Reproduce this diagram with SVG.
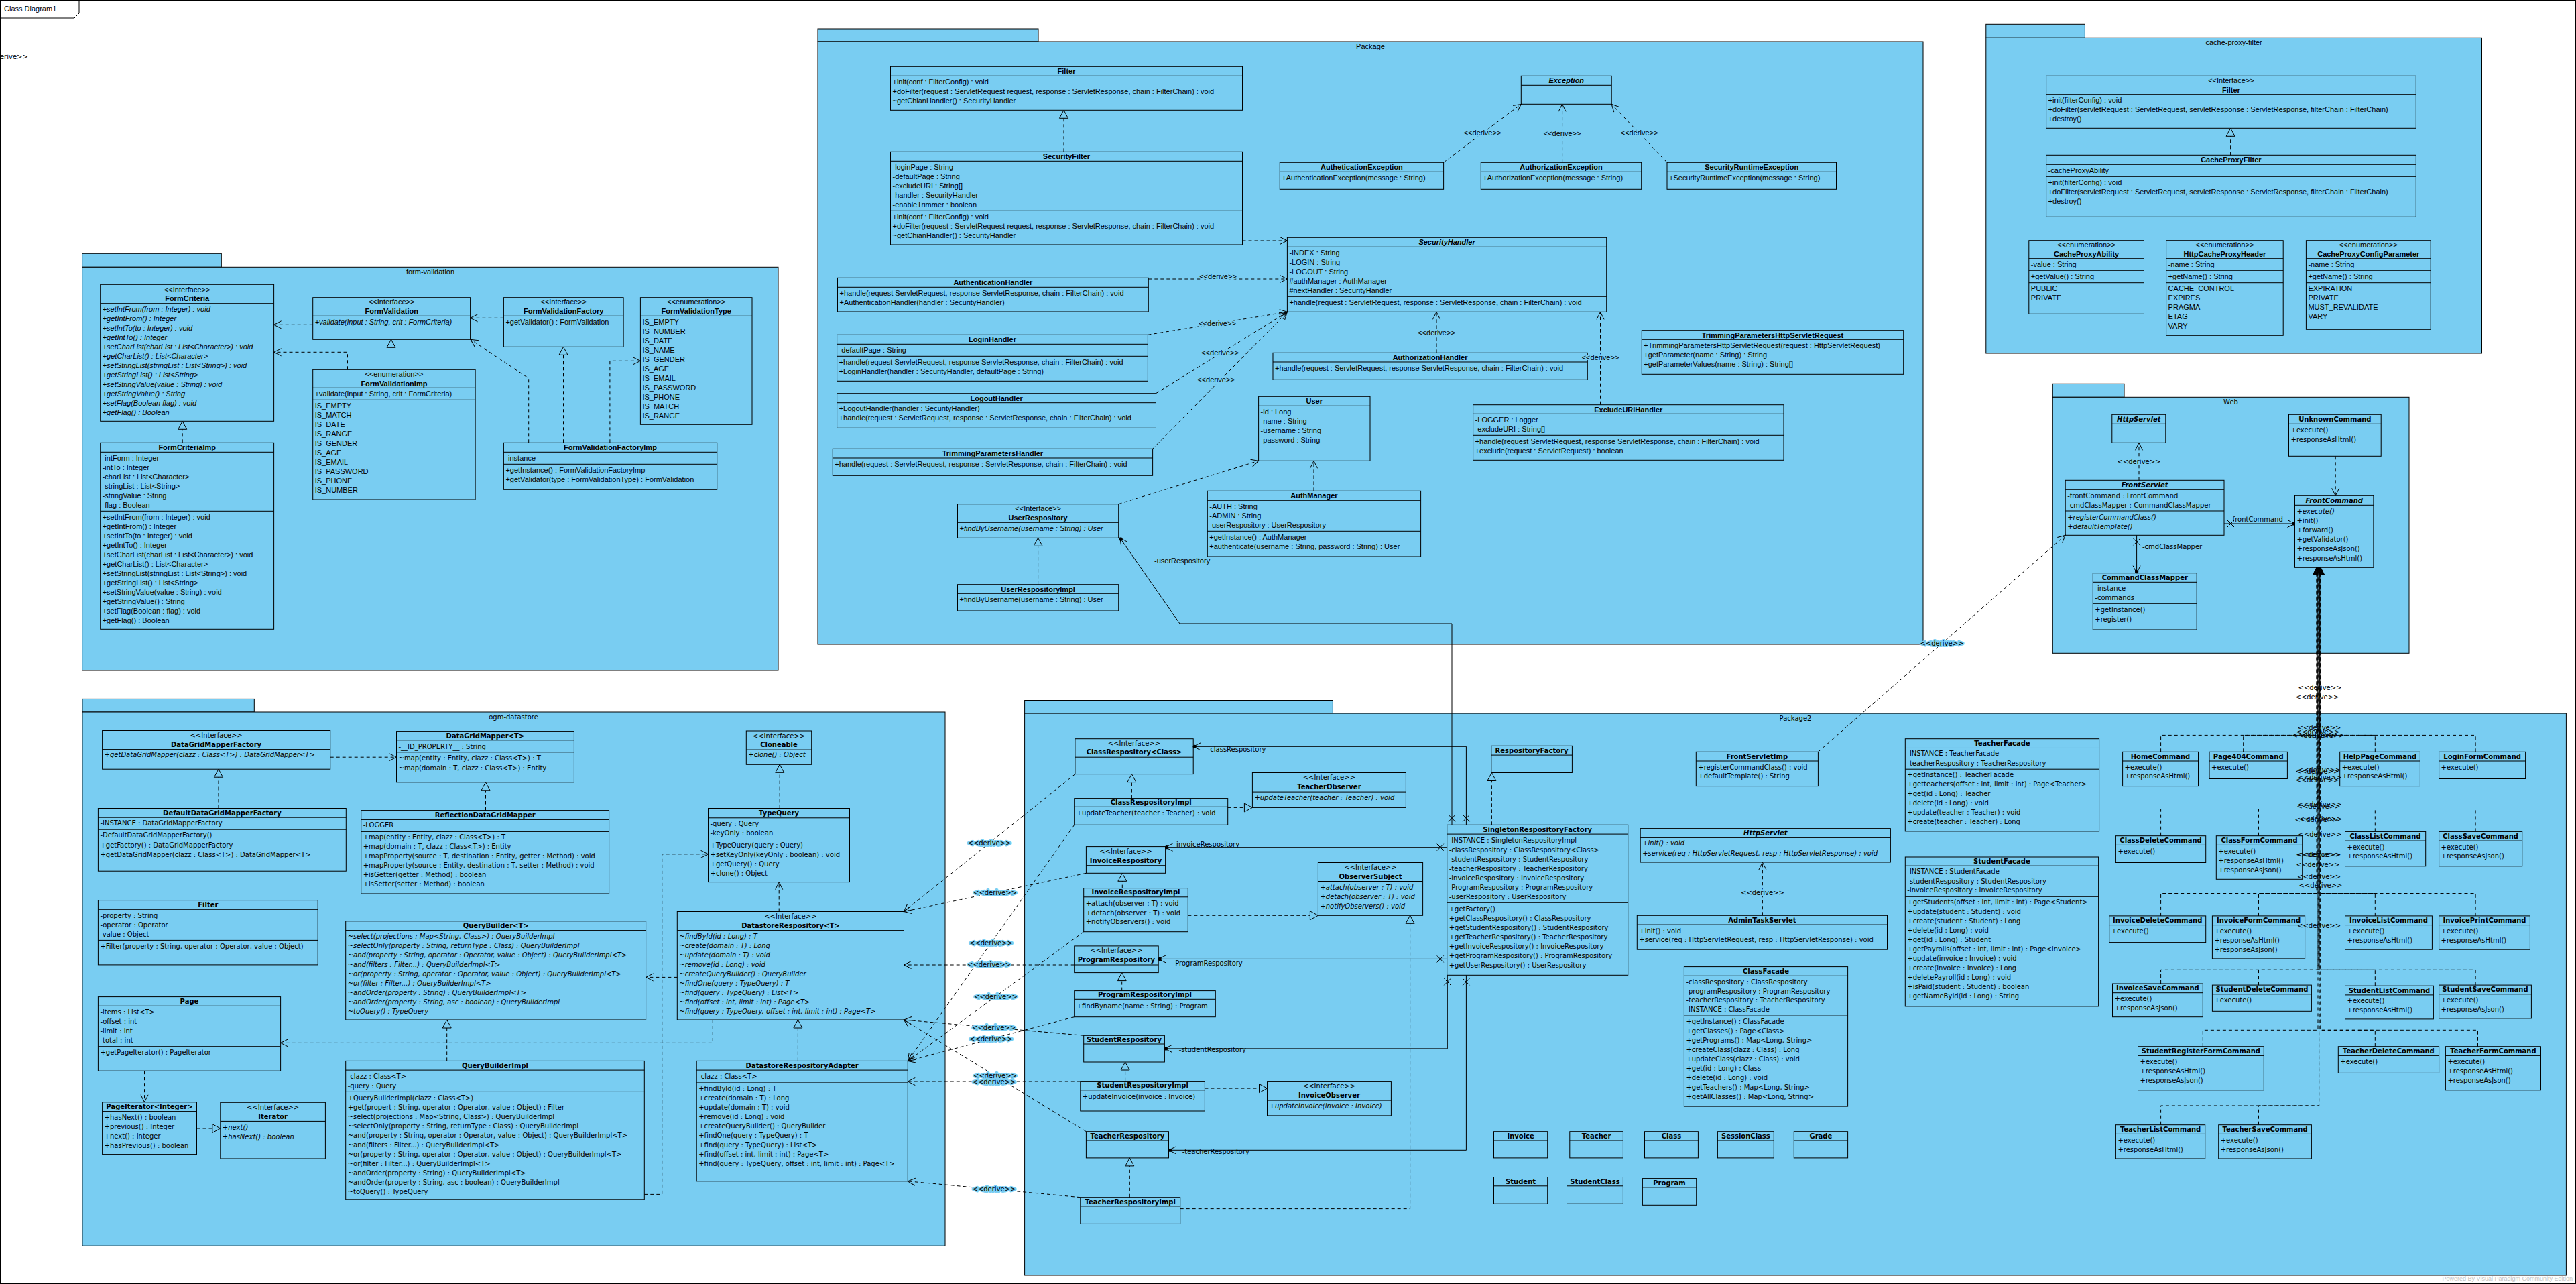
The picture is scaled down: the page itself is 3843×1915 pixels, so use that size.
<svg xmlns="http://www.w3.org/2000/svg" width="3843" height="1915" viewBox="0 0 3843 1915">
<style>
.box{fill:#79cdf2;stroke:#000;stroke-width:1}
.sep{stroke:#000;stroke-width:1;fill:none}
.t{font-family:"Liberation Sans",Arial,sans-serif;font-size:11px;fill:#000}
.u{font-family:"DejaVu Sans",Verdana,sans-serif;font-size:10px;fill:#000}
.b{font-weight:bold}
.i{font-style:italic}
.m{text-anchor:middle}
.dep{fill:none;stroke:#000;stroke-width:1;stroke-dasharray:5 4}
.sol{fill:none;stroke:#000;stroke-width:1}
.halo{paint-order:stroke;stroke:#79cdf2;stroke-width:4px;stroke-linejoin:round}
</style>
<defs>
<marker id="mOpen" markerUnits="userSpaceOnUse" markerWidth="14" markerHeight="14" refX="11" refY="6" orient="auto" overflow="visible">
<path d="M0,0.5 L11,6 L0,11.5" fill="none" stroke="#000" stroke-width="1"/>
</marker>
<marker id="mTri" markerUnits="userSpaceOnUse" markerWidth="14" markerHeight="14" refX="12" refY="6.5" orient="auto" overflow="visible">
<path d="M0,0 L12,6.5 L0,13 Z" fill="#79cdf2" stroke="#000" stroke-width="1"/>
</marker>
<marker id="mNav" markerUnits="userSpaceOnUse" markerWidth="14" markerHeight="14" refX="11" refY="6" orient="auto" overflow="visible">
<path d="M0,0.5 L11,6 L0,11.5" fill="none" stroke="#000" stroke-width="1"/>
<circle cx="9" cy="6" r="2.6" fill="#000"/>
</marker>
<marker id="mX" markerUnits="userSpaceOnUse" markerWidth="20" markerHeight="20" refX="0" refY="0" orient="auto" overflow="visible">
<path d="M5,-5 L15,5 M5,5 L15,-5" fill="none" stroke="#000" stroke-width="1"/>
</marker>
</defs>

<rect x="0" y="0" width="3843" height="1915" fill="#fff"/>

<!-- diagram frame -->
<g id="frame" class="t">
<rect x="0.5" y="0.5" width="3842" height="1914" fill="none" stroke="#000" stroke-width="1"/>
<path d="M0.5,0.5 H118 V20 L111,27 H0.5" fill="none" stroke="#000" stroke-width="1"/>
<text x="6" y="17">Class Diagram1</text>
</g>

<!-- packages -->
<g id="pkg-package" class="t">
<rect class="box" x="1220" y="43" width="329" height="19"/>
<rect class="box" x="1220" y="62" width="1649" height="899"/>
<text class="m" x="2044.5" y="73.3">Package</text>
</g>
<g id="pkg-form-validation" class="t">
<rect class="box" x="122.6" y="378.3" width="207.7" height="20"/>
<rect class="box" x="122.6" y="398.3" width="1038.4" height="601.7"/>
<text class="m" x="642" y="409">form-validation</text>
</g>
<g id="pkg-cache-proxy-filter" class="t">
<rect class="box" x="2962.8" y="36.3" width="147.6" height="20"/>
<rect class="box" x="2962.8" y="56.3" width="739.7" height="470.7"/>
<text class="m" x="3332.6" y="67.3">cache-proxy-filter</text>
</g>
<g id="pkg-web" class="u">
<rect class="box" x="3062.3" y="572.3" width="106.7" height="20"/>
<rect class="box" x="3062.3" y="592.3" width="531.7" height="382"/>
<text class="m" x="3328" y="602.6">Web</text>
</g>
<g id="pkg-ogm-datastore" class="u">
<rect class="box" x="122.9" y="1042.4" width="256.4" height="19.6"/>
<rect class="box" x="122.9" y="1062" width="1287.1" height="796.2"/>
<text class="m" x="766" y="1073">ogm-datastore</text>
</g>
<g id="pkg-package2" class="u">
<rect class="box" x="1528.6" y="1044.5" width="459.8" height="19.6"/>
<rect class="box" x="1528.6" y="1064.1" width="2299.8" height="837.9"/>
<text class="m" x="2678.5" y="1074.6">Package2</text>
</g>

<!-- ===== Package ===== -->
<g id="n-filter" class="t" transform="translate(1328.5,99.3)">
<rect class="box" width="525" height="65"/><path class="sep" d="M0,14H525"/>
<text class="b m" x="262.5" y="11">Filter</text>
<text x="3" y="26.7">+init(conf : FilterConfig) : void</text>
<text x="3" y="40.7">+doFilter(request : ServletRequest request, response : ServletResponse, chain : FilterChain) : void</text>
<text x="3" y="54.7">~getChianHandler() : SecurityHandler</text>
</g>
<g id="n-securityfilter" class="t" transform="translate(1328.5,226.3)">
<rect class="box" width="525" height="138.7"/><path class="sep" d="M0,14H525M0,88H525"/>
<text class="b m" x="262.5" y="11">SecurityFilter</text>
<text x="3" y="27">-loginPage : String</text>
<text x="3" y="41">-defaultPage : String</text>
<text x="3" y="55">-excludeURI : String[]</text>
<text x="3" y="69">-handler : SecurityHandler</text>
<text x="3" y="83">-enableTrimmer : boolean</text>
<text x="3" y="101">+init(conf : FilterConfig) : void</text>
<text x="3" y="115">+doFilter(request : ServletRequest request, response : ServletResponse, chain : FilterChain) : void</text>
<text x="3" y="129">~getChianHandler() : SecurityHandler</text>
</g>
<g id="n-authenticationhandler" class="t" transform="translate(1249.5,414.3)">
<rect class="box" width="463.8" height="50.7"/><path class="sep" d="M0,14H463.8"/>
<text class="b m" x="231.9" y="11">AuthenticationHandler</text>
<text x="3" y="26.7">+handle(request ServletRequest, response ServletResponse, chain : FilterChain) : void</text>
<text x="3" y="40.7">+AuthenticationHandler(handler : SecurityHandler)</text>
</g>
<g id="n-securityhandler" class="t" transform="translate(1920.4,354.3)">
<rect class="box" width="476.3" height="111"/><path class="sep" d="M0,14H476.3M0,88H476.3"/>
<text class="b i m" x="238.2" y="11">SecurityHandler</text>
<text x="3" y="26.7">-INDEX : String</text>
<text x="3" y="40.7">-LOGIN : String</text>
<text x="3" y="54.7">-LOGOUT : String</text>
<text x="3" y="68.7">#authManager : AuthManager</text>
<text x="3" y="82.7">#nextHandler : SecurityHandler</text>
<text x="3" y="100.7">+handle(request : ServletRequest, response : ServletResponse, chain : FilterChain) : void</text>
</g>
<g id="n-loginhandler" class="t" transform="translate(1248.6,499.3)">
<rect class="box" width="463.8" height="69"/><path class="sep" d="M0,14H463.8M0,32H463.8"/>
<text class="b m" x="231.9" y="11">LoginHandler</text>
<text x="3" y="27">-defaultPage : String</text>
<text x="3" y="45">+handle(request ServletRequest, response ServletResponse, chain : FilterChain) : void</text>
<text x="3" y="59">+LoginHandler(handler : SecurityHandler, defaultPage : String)</text>
</g>
<g id="n-logouthandler" class="t" transform="translate(1248.6,586.7)">
<rect class="box" width="475.9" height="51.6"/><path class="sep" d="M0,14H475.9"/>
<text class="b m" x="238" y="11">LogoutHandler</text>
<text x="3" y="26.3">+LogoutHandler(handler : SecurityHandler)</text>
<text x="3" y="40.3">+handle(request : ServletRequest, response : ServletResponse, chain : FilterChain) : void</text>
</g>
<g id="n-trimmingparametershandler" class="t" transform="translate(1242.3,669.3)">
<rect class="box" width="477.3" height="40"/><path class="sep" d="M0,13.7H477.3"/>
<text class="b m" x="238.6" y="11">TrimmingParametersHandler</text>
<text x="3" y="26.7">+handle(request : ServletRequest, response : ServletResponse, chain : FilterChain) : void</text>
</g>
<g id="n-userrespository" class="t" transform="translate(1428.5,751.7)">
<rect class="box" width="240.2" height="50.6"/><path class="sep" d="M0,27.6H240.2"/>
<text class="m" x="120.1" y="10.6">&lt;&lt;Interface&gt;&gt;</text>
<text class="b m" x="120.1" y="24.6">UserRespository</text>
<text class="i" x="3" y="40.3">+findByUsername(username : String) : User</text>
</g>
<g id="n-userrespositoryimpl" class="t" transform="translate(1428.5,871.7)">
<rect class="box" width="240.2" height="39.3"/><path class="sep" d="M0,13.6H240.2"/>
<text class="b m" x="120.1" y="11">UserRespositoryImpl</text>
<text x="3" y="26.6">+findByUsername(username : String) : User</text>
</g>
<g id="n-user" class="t" transform="translate(1877.6,591.3)">
<rect class="box" width="166.4" height="96"/><path class="sep" d="M0,14H166.4"/>
<text class="b m" x="83.2" y="11">User</text>
<text x="3" y="27">-id : Long</text>
<text x="3" y="41">-name : String</text>
<text x="3" y="55">-username : String</text>
<text x="3" y="69">-password : String</text>
</g>
<g id="n-authmanager" class="t" transform="translate(1801.3,732.3)">
<rect class="box" width="318.3" height="97.7"/><path class="sep" d="M0,14H318.3M0,60H318.3"/>
<text class="b m" x="159.1" y="11">AuthManager</text>
<text x="3" y="27">-AUTH : String</text>
<text x="3" y="41">-ADMIN : String</text>
<text x="3" y="55">-userRespository : UserRespository</text>
<text x="3" y="73">+getInstance() : AuthManager</text>
<text x="3" y="87">+authenticate(username : String, password : String) : User</text>
</g>
<g id="n-exception" class="t" transform="translate(2269.3,113.3)">
<rect class="box" width="134.9" height="42"/><path class="sep" d="M0,14H134.9"/>
<text class="b i m" x="67.5" y="11">Exception</text>
</g>
<g id="n-autheticationexception" class="t" transform="translate(1909.3,242.3)">
<rect class="box" width="244.3" height="40"/><path class="sep" d="M0,14H244.3"/>
<text class="b m" x="122.1" y="11">AutheticationException</text>
<text x="3" y="27">+AuthenticationException(message : String)</text>
</g>
<g id="n-authorizationexception" class="t" transform="translate(2209.3,242.3)">
<rect class="box" width="239.4" height="40"/><path class="sep" d="M0,14H239.4"/>
<text class="b m" x="119.7" y="11">AuthorizationException</text>
<text x="3" y="27">+AuthorizationException(message : String)</text>
</g>
<g id="n-securityruntimeexception" class="t" transform="translate(2487,242.3)">
<rect class="box" width="252.5" height="40"/><path class="sep" d="M0,14H252.5"/>
<text class="b m" x="126.2" y="11">SecurityRuntimeException</text>
<text x="3" y="27">+SecurityRuntimeException(message : String)</text>
</g>
<g id="n-authorizationhandler" class="t" transform="translate(1899,526.3)">
<rect class="box" width="469.3" height="40"/><path class="sep" d="M0,13.7H469.3"/>
<text class="b m" x="234.6" y="11">AuthorizationHandler</text>
<text x="3" y="27">+handle(request : ServletRequest, response ServletResponse, chain : FilterChain) : void</text>
</g>
<g id="n-excludeurihandler" class="t" transform="translate(2197.6,603.7)">
<rect class="box" width="463.4" height="82.6"/><path class="sep" d="M0,13.6H463.4M0,45.6H463.4"/>
<text class="b m" x="231.7" y="11">ExcludeURIHandler</text>
<text x="3" y="26.6">-LOGGER : Logger</text>
<text x="3" y="40.6">-excludeURI : String[]</text>
<text x="3" y="58.6">+handle(request ServletRequest, response ServletResponse, chain : FilterChain) : void</text>
<text x="3" y="72.6">+exclude(request : ServletRequest) : boolean</text>
</g>
<g id="n-trimmingparametershttpservletrequest" class="t" transform="translate(2449.3,492.7)">
<rect class="box" width="390.4" height="65.6"/><path class="sep" d="M0,13.6H390.4"/>
<text class="b m" x="195.2" y="11">TrimmingParametersHttpServletRequest</text>
<text x="3" y="26.3">+TrimmingParametersHttpServletRequest(request : HttpServletRequest)</text>
<text x="3" y="40.3">+getParameter(name : String) : String</text>
<text x="3" y="54.3">+getParameterValues(name : String) : String[]</text>
</g>

<!-- ===== form-validation ===== -->
<g id="n-formcriteria" class="t" transform="translate(149.7,424.3)">
<rect class="box" width="258.9" height="204"/><path class="sep" d="M0,28.4H258.9"/>
<text class="m" x="129.5" y="11.4">&lt;&lt;Interface&gt;&gt;</text>
<text class="b m" x="129.5" y="25">FormCriteria</text>
<g class="i">
<text x="3" y="41">+setIntFrom(from : Integer) : void</text>
<text x="3" y="55">+getIntFrom() : Integer</text>
<text x="3" y="69">+setIntTo(to : Integer) : void</text>
<text x="3" y="83">+getIntTo() : Integer</text>
<text x="3" y="97">+setCharList(charList : List&lt;Character&gt;) : void</text>
<text x="3" y="111">+getCharList() : List&lt;Character&gt;</text>
<text x="3" y="125">+setStringList(stringList : List&lt;String&gt;) : void</text>
<text x="3" y="139">+getStringList() : List&lt;String&gt;</text>
<text x="3" y="153">+setStringValue(value : String) : void</text>
<text x="3" y="167">+getStringValue() : String</text>
<text x="3" y="181">+setFlag(Boolean flag) : void</text>
<text x="3" y="195">+getFlag() : Boolean</text>
</g>
</g>
<g id="n-formcriteriaimp" class="t" transform="translate(149.7,660.3)">
<rect class="box" width="258.9" height="278"/><path class="sep" d="M0,14H258.9M0,102H258.9"/>
<text class="b m" x="129.5" y="11">FormCriteriaImp</text>
<text x="3" y="27">-intForm : Integer</text>
<text x="3" y="41">-intTo : Integer</text>
<text x="3" y="55">-charList : List&lt;Character&gt;</text>
<text x="3" y="69">-stringList : List&lt;String&gt;</text>
<text x="3" y="83">-stringValue : String</text>
<text x="3" y="97">-flag : Boolean</text>
<text x="3" y="115">+setIntFrom(from : Integer) : void</text>
<text x="3" y="129">+getIntFrom() : Integer</text>
<text x="3" y="143">+setIntTo(to : Integer) : void</text>
<text x="3" y="157">+getIntTo() : Integer</text>
<text x="3" y="171">+setCharList(charList : List&lt;Character&gt;) : void</text>
<text x="3" y="185">+getCharList() : List&lt;Character&gt;</text>
<text x="3" y="199">+setStringList(stringList : List&lt;String&gt;) : void</text>
<text x="3" y="213">+getStringList() : List&lt;String&gt;</text>
<text x="3" y="227">+setStringValue(value : String) : void</text>
<text x="3" y="241">+getStringValue() : String</text>
<text x="3" y="255">+setFlag(Boolean : flag) : void</text>
<text x="3" y="269">+getFlag() : Boolean</text>
</g>
<g id="n-formvalidation" class="t" transform="translate(466.7,443.7)">
<rect class="box" width="234.9" height="62.6"/><path class="sep" d="M0,27.6H234.9"/>
<text class="m" x="117.5" y="10.6">&lt;&lt;Interface&gt;&gt;</text>
<text class="b m" x="117.5" y="24.6">FormValidation</text>
<text class="i" x="3" y="40.6">+validate(input : String, crit : FormCriteria)</text>
</g>
<g id="n-formvalidationimp" class="t" transform="translate(466.7,551.3)">
<rect class="box" width="242.4" height="193.7"/><path class="sep" d="M0,27H242.4M0,45H242.4"/>
<text class="m" x="121.2" y="11">&lt;&lt;enumeration&gt;&gt;</text>
<text class="b m" x="121.2" y="25">FormValidationImp</text>
<text x="3" y="40">+validate(input : String, crit : FormCriteria)</text>
<text x="3" y="57.7">IS_EMPTY</text>
<text x="3" y="71.7">IS_MATCH</text>
<text x="3" y="85.7">IS_DATE</text>
<text x="3" y="99.7">IS_RANGE</text>
<text x="3" y="113.7">IS_GENDER</text>
<text x="3" y="127.7">IS_AGE</text>
<text x="3" y="141.7">IS_EMAIL</text>
<text x="3" y="155.7">IS_PASSWORD</text>
<text x="3" y="169.7">IS_PHONE</text>
<text x="3" y="183.7">IS_NUMBER</text>
</g>
<g id="n-formvalidationfactory" class="t" transform="translate(751.4,443.7)">
<rect class="box" width="178.7" height="73.6"/><path class="sep" d="M0,27.6H178.7"/>
<text class="m" x="89.3" y="10.6">&lt;&lt;Interface&gt;&gt;</text>
<text class="b m" x="89.3" y="24.6">FormValidationFactory</text>
<text x="3" y="40.6">+getValidator() : FormValidation</text>
</g>
<g id="n-formvalidationtype" class="t" transform="translate(955.4,443.7)">
<rect class="box" width="166.6" height="189.6"/><path class="sep" d="M0,27.6H166.6"/>
<text class="m" x="83.3" y="10.6">&lt;&lt;enumeration&gt;&gt;</text>
<text class="b m" x="83.3" y="24.6">FormValidationType</text>
<text x="3" y="40.6">IS_EMPTY</text>
<text x="3" y="54.6">IS_NUMBER</text>
<text x="3" y="68.6">IS_DATE</text>
<text x="3" y="82.6">IS_NAME</text>
<text x="3" y="96.6">IS_GENDER</text>
<text x="3" y="110.6">IS_AGE</text>
<text x="3" y="124.6">IS_EMAIL</text>
<text x="3" y="138.6">IS_PASSWORD</text>
<text x="3" y="152.6">IS_PHONE</text>
<text x="3" y="166.6">IS_MATCH</text>
<text x="3" y="180.6">IS_RANGE</text>
</g>
<g id="n-formvalidationfactoryimp" class="t" transform="translate(751.4,660.3)">
<rect class="box" width="318.3" height="70"/><path class="sep" d="M0,14H318.3M0,32H318.3"/>
<text class="b m" x="159.1" y="11">FormValidationFactoryImp</text>
<text x="3" y="27">-instance</text>
<text x="3" y="45">+getInstance() : FormValidationFactoryImp</text>
<text x="3" y="59">+getValidator(type : FormValidationType) : FormValidation</text>
</g>

<!-- ===== cache-proxy-filter ===== -->
<g id="n-cpf-filter" class="t" transform="translate(3052.6,113.3)">
<rect class="box" width="551.7" height="78"/><path class="sep" d="M0,27.4H551.7"/>
<text class="m" x="275.8" y="11">&lt;&lt;Interface&gt;&gt;</text>
<text class="b m" x="275.8" y="25">Filter</text>
<text x="3" y="39.7">+init(filterConfig) : void</text>
<text x="3" y="53.7">+doFilter(servletRequest : ServletRequest, servletResponse : ServletResponse, filterChain : FilterChain)</text>
<text x="3" y="67.7">+destroy()</text>
</g>
<g id="n-cacheproxyfilter" class="t" transform="translate(3052.6,231.3)">
<rect class="box" width="551.7" height="92"/><path class="sep" d="M0,14H551.7M0,32H551.7"/>
<text class="b m" x="275.8" y="11">CacheProxyFilter</text>
<text x="3" y="27">-cacheProxyAbility</text>
<text x="3" y="44.7">+init(filterConfig) : void</text>
<text x="3" y="58.7">+doFilter(servletRequest : ServletRequest, servletResponse : ServletResponse, filterChain : FilterChain)</text>
<text x="3" y="72.7">+destroy()</text>
</g>
<g id="n-cacheproxyability" class="t" transform="translate(3026.8,358.7)">
<rect class="box" width="171.7" height="109.6"/><path class="sep" d="M0,27H171.7M0,44.6H171.7M0,63H171.7"/>
<text class="m" x="85.8" y="10.6">&lt;&lt;enumeration&gt;&gt;</text>
<text class="b m" x="85.8" y="24.6">CacheProxyAbility</text>
<text x="3" y="39.6">-value : String</text>
<text x="3" y="57.6">+getValue() : String</text>
<text x="3" y="75.3">PUBLIC</text>
<text x="3" y="89.3">PRIVATE</text>
</g>
<g id="n-httpcacheproxyheader" class="t" transform="translate(3231.6,358.7)">
<rect class="box" width="174.6" height="141.6"/><path class="sep" d="M0,27H174.6M0,44.6H174.6M0,63H174.6"/>
<text class="m" x="87.3" y="10.6">&lt;&lt;enumeration&gt;&gt;</text>
<text class="b m" x="87.3" y="24.6">HttpCacheProxyHeader</text>
<text x="3" y="39.6">-name : String</text>
<text x="3" y="57.6">+getName() : String</text>
<text x="3" y="75.3">CACHE_CONTROL</text>
<text x="3" y="89.3">EXPIRES</text>
<text x="3" y="103.3">PRAGMA</text>
<text x="3" y="117.3">ETAG</text>
<text x="3" y="131.3">VARY</text>
</g>
<g id="n-cacheproxyconfigparameter" class="t" transform="translate(3440.4,358.7)">
<rect class="box" width="185.8" height="132.6"/><path class="sep" d="M0,27H185.8M0,44.6H185.8M0,63H185.8"/>
<text class="m" x="92.9" y="10.6">&lt;&lt;enumeration&gt;&gt;</text>
<text class="b m" x="92.9" y="24.6">CacheProxyConfigParameter</text>
<text x="3" y="39.6">-name : String</text>
<text x="3" y="57.6">+getName() : String</text>
<text x="3" y="75.3">EXPIRATION</text>
<text x="3" y="89.3">PRIVATE</text>
<text x="3" y="103.3">MUST_REVALIDATE</text>
<text x="3" y="117.3">VARY</text>
</g>

<!-- ===== Web ===== -->
<g id="n-web-httpservlet" class="u" transform="translate(3150.8,618.3)">
<rect class="box" width="80" height="42"/><path class="sep" d="M0,14H80"/>
<text class="b i m" x="40" y="10.6">HttpServlet</text>
</g>
<g id="n-frontservlet" class="u" transform="translate(3081.2,716.3)">
<rect class="box" width="236.8" height="82"/><path class="sep" d="M0,14H236.8M0,45.7H236.8"/>
<text class="b i m" x="118.4" y="10.6">FrontServlet</text>
<text x="3" y="26.3">-frontCommand : FrontCommand</text>
<text x="3" y="40.3">-cmdClassMapper : CommandClassMapper</text>
<text class="i" x="3" y="58.3">+registerCommandClass()</text>
<text class="i" x="3" y="72.3">+defaultTemplate()</text>
</g>
<g id="n-commandclassmapper" class="u" transform="translate(3122.3,854.7)">
<rect class="box" width="154.9" height="84.3"/><path class="sep" d="M0,13.6H154.9M0,45.6H154.9"/>
<text class="b m" x="77.5" y="10.6">CommandClassMapper</text>
<text x="3" y="25.9">-instance</text>
<text x="3" y="39.9">-commands</text>
<text x="3" y="57.9">+getInstance()</text>
<text x="3" y="71.9">+register()</text>
</g>
<g id="n-unknowncommand" class="u" transform="translate(3414.5,618.3)">
<rect class="box" width="137.7" height="62"/><path class="sep" d="M0,14H137.7"/>
<text class="b m" x="68.8" y="10.6">UnknownCommand</text>
<text x="3" y="26.3">+execute()</text>
<text x="3" y="40.3">+responseAsHtml()</text>
</g>
<g id="n-frontcommand" class="u" transform="translate(3423.5,739.3)">
<rect class="box" width="117.4" height="107"/><path class="sep" d="M0,14H117.4"/>
<text class="b i m" x="58.7" y="10.6">FrontCommand</text>
<text class="i" x="3" y="26.3">+execute()</text>
<text x="3" y="40.3">+init()</text>
<text x="3" y="54.3">+forward()</text>
<text x="3" y="68.3">+getValidator()</text>
<text x="3" y="82.3">+responseAsJson()</text>
<text x="3" y="96.3">+responseAsHtml()</text>
</g>

<!-- ===== ogm-datastore ===== -->
<g id="n-datagridmapperfactory" class="u" transform="translate(152.6,1089.5)">
<rect class="box" width="340.1" height="57.7"/><path class="sep" d="M0,28.1H340.1"/>
<text class="m" x="170" y="10.5">&lt;&lt;Interface&gt;&gt;</text>
<text class="b m" x="170" y="24.3">DataGridMapperFactory</text>
<text class="i" x="3" y="39.1">+getDataGridMapper(clazz : Class&lt;T&gt;) : DataGridMapper&lt;T&gt;</text>
</g>
<g id="n-datagridmapper" class="u" transform="translate(591.5,1090.6)">
<rect class="box" width="264.9" height="76.2"/><path class="sep" d="M0,13.2H264.9M0,31.2H264.9"/>
<text class="b m" x="132.4" y="10">DataGridMapper&lt;T&gt;</text>
<text x="3" y="26.3">-__ID_PROPERTY__ : String</text>
<text x="3" y="43.8">~map(entity : Entity, clazz : Class&lt;T&gt;) : T</text>
<text x="3" y="58.1">~map(domain : T, clazz : Class&lt;T&gt;) : Entity</text>
</g>
<g id="n-defaultdatagridmapperfactory" class="u" transform="translate(146.4,1205.5)">
<rect class="box" width="369.9" height="93.7"/><path class="sep" d="M0,13.7H369.9M0,31.7H369.9"/>
<text class="b m" x="185" y="10.3">DefaultDataGridMapperFactory</text>
<text x="3" y="25.8">-INSTANCE : DataGridMapperFactory</text>
<text x="3" y="43.8">-DefaultDataGridMapperFactory()</text>
<text x="3" y="58.1">+getFactory() : DataGridMapperFactory</text>
<text x="3" y="72.4">+getDataGridMapper(clazz : Class&lt;T&gt;) : DataGridMapper&lt;T&gt;</text>
</g>
<g id="n-reflectiondatagridmapper" class="u" transform="translate(538.7,1208.6)">
<rect class="box" width="369.9" height="124.4"/><path class="sep" d="M0,13.8H369.9M0,31.8H369.9"/>
<text class="b m" x="185" y="10.4">ReflectionDataGridMapper</text>
<text x="3" y="25.9">-LOGGER</text>
<text x="3" y="43.9">+map(entity : Entity, clazz : Class&lt;T&gt;) : T</text>
<text x="3" y="57.9">+map(domain : T, clazz : Class&lt;T&gt;) : Entity</text>
<text x="3" y="71.9">+mapProperty(source : T, destination : Entity, getter : Method) : void</text>
<text x="3" y="85.9">+mapProperty(source : Entity, destination : T, setter : Method) : void</text>
<text x="3" y="99.9">+isGetter(getter : Method) : boolean</text>
<text x="3" y="113.9">+isSetter(setter : Method) : boolean</text>
</g>
<g id="n-orm-filter" class="u" transform="translate(146.4,1342.6)">
<rect class="box" width="327.8" height="96.3"/><path class="sep" d="M0,13.7H327.8M0,59.8H327.8"/>
<text class="b m" x="163.9" y="10.4">Filter</text>
<text x="3" y="26.3">-property : String</text>
<text x="3" y="40.3">-operator : Operator</text>
<text x="3" y="54.3">-value : Object</text>
<text x="3" y="72.4">+Filter(property : String, operator : Operator, value : Object)</text>
</g>
<g id="n-page" class="u" transform="translate(146.4,1486.6)">
<rect class="box" width="272.2" height="110.6"/><path class="sep" d="M0,13.7H272.2M0,74.1H272.2"/>
<text class="b m" x="136.1" y="10.4">Page</text>
<text x="3" y="26.3">-items : List&lt;T&gt;</text>
<text x="3" y="40.3">-offset : int</text>
<text x="3" y="54.3">-limit : int</text>
<text x="3" y="68.3">-total : int</text>
<text x="3" y="86.2">+getPageIterator() : PageIterator</text>
</g>
<g id="n-pageiterator" class="u" transform="translate(152.6,1643.8)">
<rect class="box" width="140.9" height="77.8"/><path class="sep" d="M0,13.8H140.9"/>
<text class="b m" x="70.4" y="10.4">PageIterator&lt;Integer&gt;</text>
<text x="3" y="25.8">+hasNext() : boolean</text>
<text x="3" y="39.8">+previous() : Integer</text>
<text x="3" y="53.8">+next() : Integer</text>
<text x="3" y="67.8">+hasPrevious() : boolean</text>
</g>
<g id="n-iterator" class="u" transform="translate(328.8,1644.3)">
<rect class="box" width="156.6" height="83.7"/><path class="sep" d="M0,28.1H156.6"/>
<text class="m" x="78.3" y="10.5">&lt;&lt;Interface&gt;&gt;</text>
<text class="b m" x="78.3" y="24.3">Iterator</text>
<text class="i" x="3" y="40.7">+next()</text>
<text class="i" x="3" y="54.7">+hasNext() : boolean</text>
</g>
<g id="n-querybuilder" class="u" transform="translate(515.7,1373.8)">
<rect class="box" width="447.9" height="147.2"/><path class="sep" d="M0,13.8H447.9"/>
<text class="b m" x="224" y="10.4">QueryBuilder&lt;T&gt;</text>
<g class="i">
<text x="3" y="25.8">~select(projections : Map&lt;String, Class&gt;) : QueryBuilderImpl</text>
<text x="3" y="39.8">~selectOnly(property : String, returnType : Class) : QueryBuilderImpl</text>
<text x="3" y="53.8">~and(property : String, operator : Operator, value : Object) : QueryBuilderImpl&lt;T&gt;</text>
<text x="3" y="67.8">~and(filters : Filter...) : QueryBuilderImpl&lt;T&gt;</text>
<text x="3" y="81.8">~or(property : String, operator : Operator, value : Object) : QueryBuilderImpl&lt;T&gt;</text>
<text x="3" y="95.8">~or(filter : Filter...) : QueryBuilderImpl&lt;T&gt;</text>
<text x="3" y="109.8">~andOrder(property : String) : QueryBuilderImpl&lt;T&gt;</text>
<text x="3" y="123.8">~andOrder(property : String, asc : boolean) : QueryBuilderImpl</text>
<text x="3" y="137.8">~toQuery() : TypeQuery</text>
</g>
</g>
<g id="n-querybuilderimpl" class="u" transform="translate(515.7,1582.4)">
<rect class="box" width="445.6" height="206.4"/><path class="sep" d="M0,13.7H445.6M0,46H445.6"/>
<text class="b m" x="222.8" y="10.4">QueryBuilderImpl</text>
<text x="3" y="26.3">-clazz : Class&lt;T&gt;</text>
<text x="3" y="40.3">-query : Query</text>
<text x="3" y="58.3">+QueryBuilderImpl(clazz : Class&lt;T&gt;)</text>
<text x="3" y="72.3">+get(propert : String, operator : Operator, value : Object) : Filter</text>
<text x="3" y="86.3">~select(projections : Map&lt;String, Class&gt;) : QueryBuilderImpl</text>
<text x="3" y="100.3">~selectOnly(property : String, returnType : Class) : QueryBuilderImpl</text>
<text x="3" y="114.3">~and(property : String, operator : Operator, value : Object) : QueryBuilderImpl&lt;T&gt;</text>
<text x="3" y="128.3">~and(filters : Filter...) : QueryBuilderImpl&lt;T&gt;</text>
<text x="3" y="142.3">~or(property : String, operator : Operator, value : Object) : QueryBuilderImpl&lt;T&gt;</text>
<text x="3" y="156.3">~or(filter : Filter...) : QueryBuilderImpl&lt;T&gt;</text>
<text x="3" y="170.3">~andOrder(property : String) : QueryBuilderImpl&lt;T&gt;</text>
<text x="3" y="184.3">~andOrder(property : String, asc : boolean) : QueryBuilderImpl</text>
<text x="3" y="198.3">~toQuery() : TypeQuery</text>
</g>
<g id="n-cloneable" class="u" transform="translate(1113.3,1090)">
<rect class="box" width="97.4" height="50.3"/><path class="sep" d="M0,28.1H97.4"/>
<text class="m" x="48.7" y="11">&lt;&lt;Interface&gt;&gt;</text>
<text class="b m" x="48.7" y="24.3">Cloneable</text>
<text class="i" x="3" y="39.1">+clone() : Object</text>
</g>
<g id="n-typequery" class="u" transform="translate(1056.5,1205.5)">
<rect class="box" width="211" height="110.1"/><path class="sep" d="M0,14.3H211M0,46H211"/>
<text class="b m" x="105.5" y="10.6">TypeQuery</text>
<text x="3" y="26.3">-query : Query</text>
<text x="3" y="40.3">-keyOnly : boolean</text>
<text x="3" y="58.1">+TypeQuery(query : Query)</text>
<text x="3" y="72.1">+setKeyOnly(keyOnly : boolean) : void</text>
<text x="3" y="86.1">+getQuery() : Query</text>
<text x="3" y="100.1">+clone() : Object</text>
</g>
<g id="n-datastorerespository" class="u" transform="translate(1010.3,1359.5)">
<rect class="box" width="338.2" height="161.5"/><path class="sep" d="M0,28.1H338.2"/>
<text class="m" x="169.1" y="10.5">&lt;&lt;Interface&gt;&gt;</text>
<text class="b m" x="169.1" y="24.3">DatastoreRespository&lt;T&gt;</text>
<g class="i">
<text x="3" y="40.1">~findById(id : Long) : T</text>
<text x="3" y="54.1">~create(domain : T) : Long</text>
<text x="3" y="68.1">~update(domain : T) : void</text>
<text x="3" y="82.1">~remove(id : Long) : void</text>
<text x="3" y="96.1">~createQueryBuilder() : QueryBuilder</text>
<text x="3" y="110.1">~findOne(query : TypeQuery) : T</text>
<text x="3" y="124.1">~find(query : TypeQuery) : List&lt;T&gt;</text>
<text x="3" y="138.1">~find(offset : int, limit : int) : Page&lt;T&gt;</text>
<text x="3" y="152.1">~find(query : TypeQuery, offset : int, limit : int) : Page&lt;T&gt;</text>
</g>
</g>
<g id="n-datastorerespositoryadapter" class="u" transform="translate(1039.2,1582.4)">
<rect class="box" width="315.1" height="179.4"/><path class="sep" d="M0,13.7H315.1M0,31.7H315.1"/>
<text class="b m" x="157.5" y="10.4">DatastoreRespositoryAdapter</text>
<text x="3" y="26.3">-clazz : Class&lt;T&gt;</text>
<text x="3" y="44.2">+findById(id : Long) : T</text>
<text x="3" y="58.2">+create(domain : T) : Long</text>
<text x="3" y="72.2">+update(domain : T) : void</text>
<text x="3" y="86.2">+remove(id : Long) : void</text>
<text x="3" y="100.2">+createQueryBuilder() : QueryBuilder</text>
<text x="3" y="114.2">+findOne(query : TypeQuery) : T</text>
<text x="3" y="128.2">+find(query : TypeQuery) : List&lt;T&gt;</text>
<text x="3" y="142.2">+find(offset : int, limit : int) : Page&lt;T&gt;</text>
<text x="3" y="156.2">+find(query : TypeQuery, offset : int, limit : int) : Page&lt;T&gt;</text>
</g>

<!-- ===== Package2 ===== -->
<g id="n-classrespository" class="u" transform="translate(1603.9,1101.7)">
<rect class="box" width="176.3" height="52.9"/><path class="sep" d="M0,27.5H176.3"/>
<text class="m" x="88.1" y="9.9">&lt;&lt;Interface&gt;&gt;</text>
<text class="b m" x="88.1" y="23.7">ClassRespository&lt;Class&gt;</text>
</g>
<g id="n-classrespositoryimpl" class="u" transform="translate(1602.7,1190.6)">
<rect class="box" width="229" height="39.7"/><path class="sep" d="M0,12.7H229"/>
<text class="b m" x="114.5" y="9.9">ClassRespositoryImpl</text>
<text x="3" y="25.9">+updateTeacher(teacher : Teacher) : void</text>
</g>
<g id="n-teacherobserver" class="u" transform="translate(1868.4,1152.5)">
<rect class="box" width="229" height="51.9"/><path class="sep" d="M0,28.6H229"/>
<text class="m" x="114.5" y="10.5">&lt;&lt;Interface&gt;&gt;</text>
<text class="b m" x="114.5" y="24.3">TeacherObserver</text>
<text class="i" x="3" y="40.1">+updateTeacher(teacher : Teacher) : void</text>
</g>
<g id="n-invoicerespository" class="u" transform="translate(1620.4,1262.6)">
<rect class="box" width="118.2" height="39.7"/><path class="sep" d="M0,28.1H118.2"/>
<text class="m" x="59.1" y="10.5">&lt;&lt;Interface&gt;&gt;</text>
<text class="b m" x="59.1" y="24.3">InvoiceRespository</text>
</g>
<g id="n-invoicerespositoryimpl" class="u" transform="translate(1616.7,1324.6)">
<rect class="box" width="155.6" height="65.1"/><path class="sep" d="M0,13.2H155.6"/>
<text class="b m" x="77.8" y="9.9">InvoiceRespositoryImpl</text>
<text x="3" y="26.3">+attach(observer : T) : void</text>
<text x="3" y="40.1">+detach(observer : T) : void</text>
<text x="3" y="53.9">+notifyObservers() : void</text>
</g>
<g id="n-observersubject" class="u" transform="translate(1966.4,1286.5)">
<rect class="box" width="156.2" height="78.8"/><path class="sep" d="M0,28H156.2"/>
<text class="m" x="78.1" y="10.4">&lt;&lt;Interface&gt;&gt;</text>
<text class="b m" x="78.1" y="24.2">ObserverSubject</text>
<g class="i">
<text x="3" y="40.6">+attach(observer : T) : void</text>
<text x="3" y="54.4">+detach(observer : T) : void</text>
<text x="3" y="68.1">+notifyObservers() : void</text>
</g>
</g>
<g id="n-programrespository" class="u" transform="translate(1602.7,1410.9)">
<rect class="box" width="125.5" height="39.7"/><path class="sep" d="M0,28.1H125.5"/>
<text class="m" x="62.7" y="9.9">&lt;&lt;Interface&gt;&gt;</text>
<text class="b m" x="62.7" y="23.7">ProgramRespository</text>
</g>
<g id="n-programrespositoryimpl" class="u" transform="translate(1602.7,1477.6)">
<rect class="box" width="210.6" height="39.1"/><path class="sep" d="M0,12.7H210.6"/>
<text class="b m" x="105.3" y="9.7">ProgramRespositoryImpl</text>
<text x="3" y="26.3">+findByname(name : String) : Program</text>
</g>
<g id="n-studentrespository" class="u" transform="translate(1616.7,1544.3)">
<rect class="box" width="120.7" height="39.7"/><path class="sep" d="M0,12.7H120.7"/>
<text class="b m" x="60.3" y="9.9">StudentRespository</text>
</g>
<g id="n-studentrespositoryimpl" class="u" transform="translate(1611.8,1612.6)">
<rect class="box" width="185.6" height="44.4"/><path class="sep" d="M0,13.2H185.6"/>
<text class="b m" x="92.8" y="9.9">StudentRespositoryImpl</text>
<text x="3" y="26.3">+updateInvoice(invoice : Invoice)</text>
</g>
<g id="n-invoiceobserver" class="u" transform="translate(1890.5,1612.6)">
<rect class="box" width="184.9" height="51.3"/><path class="sep" d="M0,28.5H184.9"/>
<text class="m" x="92.4" y="10.4">&lt;&lt;Interface&gt;&gt;</text>
<text class="b m" x="92.4" y="24.2">InvoiceObserver</text>
<text class="i" x="3" y="40.1">+updateInvoice(invoice : Invoice)</text>
</g>
<g id="n-teacherrespository" class="u" transform="translate(1620.4,1687.7)">
<rect class="box" width="123.1" height="39.2"/><path class="sep" d="M0,13.3H123.1"/>
<text class="b m" x="61.5" y="10.2">TeacherRespository</text>
</g>
<g id="n-teacherrespositoryimpl" class="u" transform="translate(1611.8,1785.7)">
<rect class="box" width="148.9" height="39.7"/><path class="sep" d="M0,13.2H148.9"/>
<text class="b m" x="74.4" y="10.1">TeacherRespositoryImpl</text>
</g>
<g id="n-respositoryfactory" class="u" transform="translate(2224.8,1112.3)">
<rect class="box" width="120.6" height="40.2"/><path class="sep" d="M0,13.8H120.6"/>
<text class="b m" x="60.3" y="10.7">RespositoryFactory</text>
</g>
<g id="n-singletonrespositoryfactory" class="u" transform="translate(2158.7,1230.3)">
<rect class="box" width="270" height="224"/><path class="sep" d="M0,13.8H270M0,116H270"/>
<text class="b m" x="135" y="10.5">SingletonRespositoryFactory</text>
<text x="3" y="26.4">-INSTANCE : SingletonRespositoryImpl</text>
<text x="3" y="40.4">-classRespository : ClassRespository&lt;Class&gt;</text>
<text x="3" y="54.4">-studentRespository : StudentRespository</text>
<text x="3" y="68.4">-teacherRespository : TeacherRespository</text>
<text x="3" y="82.4">-invoiceRespository : InvoiceRespository</text>
<text x="3" y="96.4">-ProgramRespository : ProgramRespository</text>
<text x="3" y="110.4">-userRespository : UserRespository</text>
<text x="3" y="128.6">+getFactory()</text>
<text x="3" y="142.6">+getClassRespository() : ClassRespository</text>
<text x="3" y="156.6">+getStudentRespository() : StudentRespository</text>
<text x="3" y="170.6">+getTeacherRespository() : TeacherRespository</text>
<text x="3" y="184.6">+getInvoiceRespository() : InvoiceRespository</text>
<text x="3" y="198.6">+getProgramRespository() : ProgramRespository</text>
<text x="3" y="212.6">+getUserRespository() : UserRespository</text>
</g>
<g id="n-frontservletimp" class="u" transform="translate(2530.3,1121.3)">
<rect class="box" width="182.1" height="51.3"/><path class="sep" d="M0,13.7H182.1"/>
<text class="b m" x="91" y="10.4">FrontServletImp</text>
<text x="3" y="26.3">+registerCommandClass() : void</text>
<text x="3" y="40.1">+defaultTemplate() : String</text>
</g>
<g id="n-p2-httpservlet" class="u" transform="translate(2447.2,1235.6)">
<rect class="box" width="373.2" height="50.4"/><path class="sep" d="M0,13.8H373.2"/>
<text class="b i m" x="186.6" y="10.5">HttpServlet</text>
<text class="i" x="3" y="25.9">+init() : void</text>
<text class="i" x="3" y="40.2">+service(req : HttpServletRequest, resp : HttpServletResponse) : void</text>
</g>
<g id="n-admintaskservlet" class="u" transform="translate(2442.3,1365.3)">
<rect class="box" width="373.2" height="50.9"/><path class="sep" d="M0,13.8H373.2"/>
<text class="b m" x="186.6" y="10.5">AdminTaskServlet</text>
<text x="3" y="26.4">+init() : void</text>
<text x="3" y="40.2">+service(req : HttpServletRequest, resp : HttpServletResponse) : void</text>
</g>
<g id="n-classfacade" class="u" transform="translate(2512.4,1441.6)">
<rect class="box" width="244.2" height="208.5"/><path class="sep" d="M0,13.7H244.2M0,73.5H244.2"/>
<text class="b m" x="122.1" y="10.4">ClassFacade</text>
<text x="3" y="26.3">-classRespository : ClassRespository</text>
<text x="3" y="40.1">-programRespository : ProgramRespository</text>
<text x="3" y="53.9">-teacherRespository : TeacherRespository</text>
<text x="3" y="67.6">-INSTANCE : ClassFacade</text>
<text x="3" y="85.6">+getInstance() : ClassFacade</text>
<text x="3" y="99.6">+getClasses() : Page&lt;Class&gt;</text>
<text x="3" y="113.6">+getPrograms() : Map&lt;Long, String&gt;</text>
<text x="3" y="127.6">+createClass(clazz : Class) : Long</text>
<text x="3" y="141.6">+updateClass(clazz : Class) : void</text>
<text x="3" y="155.6">+get(id : Long) : Class</text>
<text x="3" y="169.6">+delete(id : Long) : void</text>
<text x="3" y="183.6">+getTeachers() : Map&lt;Long, String&gt;</text>
<text x="3" y="197.6">+getAllClasses() : Map&lt;Long, String&gt;</text>
</g>
<g id="n-teacherfacade" class="u" transform="translate(2842.3,1101.7)">
<rect class="box" width="289.3" height="138.2"/><path class="sep" d="M0,13.8H289.3M0,45.5H289.3"/>
<text class="b m" x="144.6" y="10.5">TeacherFacade</text>
<text x="3" y="25.8">-INSTANCE : TeacherFacade</text>
<text x="3" y="40.1">-teacherRespository : TeacherRespository</text>
<text x="3" y="57.6">+getInstance() : TeacherFacade</text>
<text x="3" y="71.6">+getteachers(offset : int, limit : int) : Page&lt;Teacher&gt;</text>
<text x="3" y="85.6">+get(id : Long) : Teacher</text>
<text x="3" y="99.6">+delete(id : Long) : void</text>
<text x="3" y="113.6">+update(teacher : Teacher) : void</text>
<text x="3" y="127.6">+create(teacher : Teacher) : Long</text>
</g>
<g id="n-studentfacade" class="u" transform="translate(2842.3,1278)">
<rect class="box" width="288.3" height="222.9"/><path class="sep" d="M0,13.2H288.3M0,59.3H288.3"/>
<text class="b m" x="144.1" y="10">StudentFacade</text>
<text x="3" y="25.3">-INSTANCE : StudentFacade</text>
<text x="3" y="39.6">-studentRespository : StudentRespository</text>
<text x="3" y="53.3">-invoiceRespository : InvoiceRespository</text>
<text x="3" y="71.3">+getStudents(offset : int, limit : int) : Page&lt;Student&gt;</text>
<text x="3" y="85.3">+update(student : Student) : void</text>
<text x="3" y="99.3">+create(student : Student) : Long</text>
<text x="3" y="113.3">+delete(id : Long) : void</text>
<text x="3" y="127.3">+get(id : Long) : Student</text>
<text x="3" y="141.3">+getPayrolls(offset : int, limit : int) : Page&lt;Invoice&gt;</text>
<text x="3" y="155.3">+update(invoice : Invoice) : void</text>
<text x="3" y="169.3">+create(invoice : Invoice) : Long</text>
<text x="3" y="183.3">+deletePayroll(id : Long) : void</text>
<text x="3" y="197.3">+isPaid(student : Student) : boolean</text>
<text x="3" y="211.3">+getNameById(id : Long) : String</text>
</g>

<!-- entity classes -->
<g id="n-invoice" class="u" transform="translate(2228.5,1687.7)"><rect class="box" width="80.2" height="39.2"/><path class="sep" d="M0,13.3H80.2"/><text class="b m" x="40.1" y="10">Invoice</text></g>
<g id="n-teacher" class="u" transform="translate(2341.8,1687.7)"><rect class="box" width="79.6" height="39.2"/><path class="sep" d="M0,13.3H79.6"/><text class="b m" x="39.8" y="10">Teacher</text></g>
<g id="n-class" class="u" transform="translate(2453.5,1687.7)"><rect class="box" width="79.9" height="39.2"/><path class="sep" d="M0,13.3H79.9"/><text class="b m" x="40" y="10">Class</text></g>
<g id="n-sessionclass" class="u" transform="translate(2562.4,1687.7)"><rect class="box" width="83.9" height="39.2"/><path class="sep" d="M0,13.3H83.9"/><text class="b m" x="42" y="10">SessionClass</text></g>
<g id="n-grade" class="u" transform="translate(2676.3,1687.7)"><rect class="box" width="80.3" height="39.2"/><path class="sep" d="M0,13.3H80.3"/><text class="b m" x="40.1" y="10">Grade</text></g>
<g id="n-student" class="u" transform="translate(2228.5,1755.5)"><rect class="box" width="80.2" height="39.7"/><path class="sep" d="M0,13.3H80.2"/><text class="b m" x="40.1" y="10">Student</text></g>
<g id="n-studentclass" class="u" transform="translate(2337.5,1755.5)"><rect class="box" width="83.9" height="39.7"/><path class="sep" d="M0,13.3H83.9"/><text class="b m" x="42" y="10">StudentClass</text></g>
<g id="n-program" class="u" transform="translate(2450.4,1757.6)"><rect class="box" width="80.3" height="39.7"/><path class="sep" d="M0,13.3H80.3"/><text class="b m" x="40.1" y="10">Program</text></g>

<!-- command classes -->
<g id="n-homecommand" class="u" transform="translate(3166.6,1121.3)"><rect class="box" width="112.9" height="51.3"/><path class="sep" d="M0,13.7H112.9"/><text class="b m" x="56.4" y="10.4">HomeCommand</text><text x="3" y="26.3">+execute()</text><text x="3" y="40.1">+responseAsHtml()</text></g>
<g id="n-page404command" class="u" transform="translate(3296,1121.3)"><rect class="box" width="116.4" height="40.2"/><path class="sep" d="M0,13.7H116.4"/><text class="b m" x="58.2" y="10.4">Page404Command</text><text x="3" y="26.3">+execute()</text></g>
<g id="n-helppagecommand" class="u" transform="translate(3490.7,1121.3)"><rect class="box" width="119.7" height="51.3"/><path class="sep" d="M0,13.7H119.7"/><text class="b m" x="59.8" y="10.4">HelpPageCommand</text><text x="3" y="26.3">+execute()</text><text x="3" y="40.1">+responseAsHtml()</text></g>
<g id="n-loginformcommand" class="u" transform="translate(3638.6,1121.3)"><rect class="box" width="129" height="40.2"/><path class="sep" d="M0,13.7H129"/><text class="b m" x="64.5" y="10.4">LoginFormCommand</text><text x="3" y="26.3">+execute()</text></g>
<g id="n-classdeletecommand" class="u" transform="translate(3156.4,1246.7)"><rect class="box" width="134.3" height="39.8"/><path class="sep" d="M0,13.7H134.3"/><text class="b m" x="67.1" y="10.4">ClassDeleteCommand</text><text x="3" y="26.3">+execute()</text></g>
<g id="n-classformcommand" class="u" transform="translate(3306.3,1246.7)"><rect class="box" width="128.4" height="64.6"/><path class="sep" d="M0,13.7H128.4"/><text class="b m" x="64.2" y="10.4">ClassFormCommand</text><text x="3" y="26.3">+execute()</text><text x="3" y="40.1">+responseAsHtml()</text><text x="3" y="53.9">+responseAsJson()</text></g>
<g id="n-classlistcommand" class="u" transform="translate(3498.5,1240.4)"><rect class="box" width="120.2" height="51.4"/><path class="sep" d="M0,13.7H120.2"/><text class="b m" x="60.1" y="10.4">ClassListCommand</text><text x="3" y="26.3">+execute()</text><text x="3" y="40.1">+responseAsHtml()</text></g>
<g id="n-classsavecommand" class="u" transform="translate(3638.6,1240.4)"><rect class="box" width="124.1" height="51.4"/><path class="sep" d="M0,13.7H124.1"/><text class="b m" x="62" y="10.4">ClassSaveCommand</text><text x="3" y="26.3">+execute()</text><text x="3" y="40.1">+responseAsJson()</text></g>
<g id="n-invoicedeletecommand" class="u" transform="translate(3146.7,1365.9)"><rect class="box" width="144" height="39.7"/><path class="sep" d="M0,13.7H144"/><text class="b m" x="72" y="10.4">InvoiceDeleteCommand</text><text x="3" y="26.3">+execute()</text></g>
<g id="n-invoiceformcommand" class="u" transform="translate(3300.4,1365.9)"><rect class="box" width="138.2" height="64"/><path class="sep" d="M0,13.7H138.2"/><text class="b m" x="69.1" y="10.4">InvoiceFormCommand</text><text x="3" y="26.3">+execute()</text><text x="3" y="40.1">+responseAsHtml()</text><text x="3" y="53.9">+responseAsJson()</text></g>
<g id="n-invoicelistcommand" class="u" transform="translate(3498.5,1365.9)"><rect class="box" width="129.9" height="50.3"/><path class="sep" d="M0,13.7H129.9"/><text class="b m" x="65" y="10.4">InvoiceListCommand</text><text x="3" y="26.3">+execute()</text><text x="3" y="40.1">+responseAsHtml()</text></g>
<g id="n-invoiceprintcommand" class="u" transform="translate(3638.6,1365.9)"><rect class="box" width="135.8" height="50.3"/><path class="sep" d="M0,13.7H135.8"/><text class="b m" x="67.9" y="10.4">InvoicePrintCommand</text><text x="3" y="26.3">+execute()</text><text x="3" y="40.1">+responseAsHtml()</text></g>
<g id="n-invoicesavecommand" class="u" transform="translate(3151.5,1467)"><rect class="box" width="134.8" height="49.7"/><path class="sep" d="M0,13.7H134.8"/><text class="b m" x="67.4" y="10.4">InvoiceSaveCommand</text><text x="3" y="26.3">+execute()</text><text x="3" y="40.1">+responseAsJson()</text></g>
<g id="n-studentdeletecommand" class="u" transform="translate(3300.4,1469.1)"><rect class="box" width="148" height="39.2"/><path class="sep" d="M0,13.7H148"/><text class="b m" x="74" y="10.4">StudentDeleteCommand</text><text x="3" y="26.3">+execute()</text></g>
<g id="n-studentlistcommand" class="u" transform="translate(3498.5,1470.2)"><rect class="box" width="131.9" height="49.7"/><path class="sep" d="M0,13.7H131.9"/><text class="b m" x="66" y="10.4">StudentListCommand</text><text x="3" y="26.3">+execute()</text><text x="3" y="40.1">+responseAsHtml()</text></g>
<g id="n-studentsavecommand" class="u" transform="translate(3638.6,1469.1)"><rect class="box" width="137.8" height="49.8"/><path class="sep" d="M0,13.7H137.8"/><text class="b m" x="68.9" y="10.4">StudentSaveCommand</text><text x="3" y="26.3">+execute()</text><text x="3" y="40.1">+responseAsJson()</text></g>
<g id="n-studentregisterformcommand" class="u" transform="translate(3189.5,1560.7)"><rect class="box" width="187.8" height="65.1"/><path class="sep" d="M0,13.7H187.8"/><text class="b m" x="93.9" y="10.4">StudentRegisterFormCommand</text><text x="3" y="26.3">+execute()</text><text x="3" y="40.1">+responseAsHtml()</text><text x="3" y="53.9">+responseAsJson()</text></g>
<g id="n-teacherdeletecommand" class="u" transform="translate(3488.3,1560.7)"><rect class="box" width="150.3" height="39.7"/><path class="sep" d="M0,13.7H150.3"/><text class="b m" x="75.1" y="10.4">TeacherDeleteCommand</text><text x="3" y="26.3">+execute()</text></g>
<g id="n-teacherformcommand" class="u" transform="translate(3648.4,1560.7)"><rect class="box" width="142.1" height="65.1"/><path class="sep" d="M0,13.7H142.1"/><text class="b m" x="71" y="10.4">TeacherFormCommand</text><text x="3" y="26.3">+execute()</text><text x="3" y="40.1">+responseAsHtml()</text><text x="3" y="53.9">+responseAsJson()</text></g>
<g id="n-teacherlistcommand" class="u" transform="translate(3156.4,1677.7)"><rect class="box" width="133.3" height="50.3"/><path class="sep" d="M0,13.7H133.3"/><text class="b m" x="66.6" y="10.4">TeacherListCommand</text><text x="3" y="26.3">+execute()</text><text x="3" y="40.1">+responseAsHtml()</text></g>
<g id="n-teachersavecommand" class="u" transform="translate(3309.7,1677.7)"><rect class="box" width="138.7" height="50.3"/><path class="sep" d="M0,13.7H138.7"/><text class="b m" x="69.3" y="10.4">TeacherSaveCommand</text><text x="3" y="26.3">+execute()</text><text x="3" y="40.1">+responseAsJson()</text></g>

<!-- ===== connectors ===== -->
<g id="connectors">
<!-- Package -->
<path class="dep" d="M1587,226.3V164.3" marker-end="url(#mTri)"/>
<path class="dep" d="M1853.5,359H1920.4" marker-end="url(#mOpen)"/>
<path class="dep" d="M1713.3,416H1920.4" marker-end="url(#mOpen)"/>
<path class="dep" d="M1712.4,499.3L1920.4,465.3" marker-end="url(#mOpen)"/>
<path class="dep" d="M1724.5,586.7L1920.4,465.3" marker-end="url(#mOpen)"/>
<path class="dep" d="M1719.6,669.3L1920.4,465.3" marker-end="url(#mOpen)"/>
<path class="dep" d="M1548.6,871.7V802.3" marker-end="url(#mTri)"/>
<path class="dep" d="M1668.7,751.7L1877.6,687.3" marker-end="url(#mOpen)"/>
<path class="dep" d="M1960,732.3V687.3" marker-end="url(#mOpen)"/>
<path class="dep" d="M2153.6,242.3L2269.3,155.3" marker-end="url(#mOpen)"/>
<path class="dep" d="M2330.6,242.3V155.3" marker-end="url(#mOpen)"/>
<path class="dep" d="M2487,242.3L2404.2,155.3" marker-end="url(#mOpen)"/>
<path class="dep" d="M2143,526.3V465.3" marker-end="url(#mOpen)"/>
<path class="dep" d="M2387.5,603.7V465.3" marker-end="url(#mOpen)"/>
<path class="sol" d="M2166,1230.3V930H1760L1670.9,802.3" marker-start="url(#mX)" marker-end="url(#mNav)"/>
<!-- form-validation -->
<path class="dep" d="M466.7,484.3H408.6" marker-end="url(#mOpen)"/>
<path class="dep" d="M583.5,551.3V506.3" marker-end="url(#mTri)"/>
<path class="dep" d="M518.5,551.3V525.3H408.6" marker-end="url(#mOpen)"/>
<path class="dep" d="M751.4,474.3H701.6" marker-end="url(#mOpen)"/>
<path class="dep" d="M272.2,660.3V628.3" marker-end="url(#mTri)"/>
<path class="dep" d="M840.5,660.3V517.3" marker-end="url(#mTri)"/>
<path class="dep" d="M788.7,660.3V564.3L702,506.3" marker-end="url(#mOpen)"/>
<path class="dep" d="M909.9,660.3V538.3H955.4" marker-end="url(#mOpen)"/>
<!-- cache-proxy-filter -->
<path class="dep" d="M3327.6,231.3V191.3" marker-end="url(#mTri)"/>
<!-- Web -->
<path class="dep" d="M3191,716.3V660.3" marker-end="url(#mOpen)"/>
<path class="sol" d="M3187.6,798.3V854.7" marker-start="url(#mX)" marker-end="url(#mNav)"/>
<path class="dep" d="M3484.2,680.3V739.3" marker-end="url(#mOpen)"/>
<path class="sol" d="M3318,781H3423.5" marker-start="url(#mX)" marker-end="url(#mNav)"/>
<path class="dep" d="M2712.4,1121.3L3081.2,798.3" marker-end="url(#mOpen)"/>
<!-- ogm-datastore -->
<path class="dep" d="M492.7,1129.2H591.5" marker-end="url(#mOpen)"/>
<path class="dep" d="M326,1205.5V1147.2" marker-end="url(#mTri)"/>
<path class="dep" d="M724.5,1208.6V1166.8" marker-end="url(#mTri)"/>
<path class="dep" d="M215.5,1597.2V1643.8" marker-end="url(#mOpen)"/>
<path class="dep" d="M293.5,1683H328.8" marker-end="url(#mTri)"/>
<path class="dep" d="M666.7,1582.4V1521" marker-end="url(#mTri)"/>
<path class="dep" d="M961.3,1781.4H987.7V1273.8H1056.5" marker-end="url(#mOpen)"/>
<path class="dep" d="M1010.3,1457.4H963.6" marker-end="url(#mOpen)"/>
<path class="dep" d="M1063.3,1521V1555.4H418.6" marker-end="url(#mOpen)"/>
<path class="dep" d="M1163.2,1205.5V1140.3" marker-end="url(#mTri)"/>
<path class="dep" d="M1162.2,1359.5V1315.6" marker-end="url(#mOpen)"/>
<path class="dep" d="M1190.4,1582.4V1521" marker-end="url(#mTri)"/>
<!-- repositories to datastore -->
<path class="dep" d="M1603.9,1154.6L1348.5,1359.5" marker-end="url(#mOpen)"/>
<path class="dep" d="M1620.4,1302.3L1348.5,1359.5" marker-end="url(#mOpen)"/>
<path class="dep" d="M1602.7,1230.3L1354.3,1582.4" marker-end="url(#mOpen)"/>
<path class="dep" d="M1616.7,1389.7L1354.3,1582.4" marker-end="url(#mOpen)"/>
<path class="dep" d="M1602.7,1516.7L1354.3,1582.4" marker-end="url(#mOpen)"/>
<path class="dep" d="M1602.7,1439H1348.5" marker-end="url(#mOpen)"/>
<path class="dep" d="M1616.7,1544.3L1348.5,1521" marker-end="url(#mOpen)"/>
<path class="dep" d="M1620.4,1687.7L1348.5,1521" marker-end="url(#mOpen)"/>
<path class="dep" d="M1611.8,1613H1354.3" marker-end="url(#mOpen)"/>
<path class="dep" d="M1611.8,1785.7L1354.3,1761.8" marker-end="url(#mOpen)"/>
<!-- Package2 internal -->
<path class="dep" d="M1688.4,1190.6V1154.6" marker-end="url(#mTri)"/>
<path class="dep" d="M1831.7,1204.4H1868.4" marker-end="url(#mTri)"/>
<path class="dep" d="M1674.3,1324.6V1302.3" marker-end="url(#mTri)"/>
<path class="dep" d="M1772.3,1365.3H1966.4" marker-end="url(#mTri)"/>
<path class="dep" d="M1673.7,1477.6V1450.6" marker-end="url(#mTri)"/>
<path class="dep" d="M1678.6,1612.6V1584" marker-end="url(#mTri)"/>
<path class="dep" d="M1797.4,1623.1H1890.5" marker-end="url(#mTri)"/>
<path class="dep" d="M1685.3,1785.7V1726.9" marker-end="url(#mTri)"/>
<path class="dep" d="M1760.7,1802.6H2103.6V1365.3" marker-end="url(#mTri)"/>
<path class="dep" d="M2225.4,1230.3V1152.5" marker-end="url(#mTri)"/>
<path class="dep" d="M2629.4,1365.3V1286" marker-end="url(#mOpen)"/>
<path class="sol" d="M2187.4,1230.3V1113.3H1780.2" marker-start="url(#mX)" marker-end="url(#mNav)"/>
<path class="sol" d="M2158.7,1263.7H1738.6" marker-start="url(#mX)" marker-end="url(#mNav)"/>
<path class="sol" d="M2158.7,1430.4H1728.2" marker-start="url(#mX)" marker-end="url(#mNav)"/>
<path class="sol" d="M2159.3,1454.3V1563.9H1737.4" marker-start="url(#mX)" marker-end="url(#mNav)"/>
<path class="sol" d="M2187.4,1454.3V1715.3H1743.5" marker-start="url(#mX)" marker-end="url(#mNav)"/>
<!-- commands to FrontCommand -->
<path class="dep" d="M3223.6,1121.3V1096.4H3456V846.3" marker-end="url(#mOpen)"/>
<path class="dep" d="M3346.7,1121.3V1096.4H3457V846.3" marker-end="url(#mOpen)"/>
<path class="dep" d="M3543.3,1121.3V1096.4H3461V846.3" marker-end="url(#mOpen)"/>
<path class="dep" d="M3693.1,1121.3V1096.4H3462V846.3" marker-end="url(#mOpen)"/>
<path class="dep" d="M3223.6,1246.7V1206.5H3457V846.3" marker-end="url(#mOpen)"/>
<path class="dep" d="M3369.5,1246.7V1206.5H3458V846.3" marker-end="url(#mOpen)"/>
<path class="dep" d="M3543.3,1240.4V1206.5H3460V846.3" marker-end="url(#mOpen)"/>
<path class="dep" d="M3693.1,1240.4V1206.5H3461V846.3" marker-end="url(#mOpen)"/>
<path class="dep" d="M3223.6,1365.9V1332.5H3456V846.3" marker-end="url(#mOpen)"/>
<path class="dep" d="M3369.5,1365.9V1332.5H3457V846.3" marker-end="url(#mOpen)"/>
<path class="dep" d="M3543.3,1365.9V1332.5H3460V846.3" marker-end="url(#mOpen)"/>
<path class="dep" d="M3693.1,1365.9V1332.5H3462V846.3" marker-end="url(#mOpen)"/>
<path class="dep" d="M3223.6,1467V1446.3H3458V846.3" marker-end="url(#mOpen)"/>
<path class="dep" d="M3369.5,1469.1V1446.3H3459V846.3" marker-end="url(#mOpen)"/>
<path class="dep" d="M3543.3,1470.2V1446.3H3461V846.3" marker-end="url(#mOpen)"/>
<path class="dep" d="M3693.1,1469.1V1446.3H3460V846.3" marker-end="url(#mOpen)"/>
<path class="dep" d="M3286.3,1560.7V1536.3H3458V846.3" marker-end="url(#mOpen)"/>
<path class="dep" d="M3543.3,1560.7V1536.3H3461V846.3" marker-end="url(#mOpen)"/>
<path class="dep" d="M3696.5,1560.7V1536.3H3462V846.3" marker-end="url(#mOpen)"/>
<path class="dep" d="M3223.6,1677.7V1649H3459.6V846.3" marker-end="url(#mOpen)"/>
<path class="dep" d="M3369.5,1677.7V1649H3459.6V846.3" marker-end="url(#mOpen)"/>
</g>

<!-- connector labels -->
<g id="connector-labels">
<g class="t m halo">
<text x="1817" y="416">&lt;&lt;derive&gt;&gt;</text>
<text x="1816" y="486">&lt;&lt;derive&gt;&gt;</text>
<text x="1820" y="530">&lt;&lt;derive&gt;&gt;</text>
<text x="1814" y="570">&lt;&lt;derive&gt;&gt;</text>
<text x="2211.5" y="201.5">&lt;&lt;derive&gt;&gt;</text>
<text x="2330.6" y="202.5">&lt;&lt;derive&gt;&gt;</text>
<text x="2445.6" y="201.5">&lt;&lt;derive&gt;&gt;</text>
<text x="2143" y="499.5">&lt;&lt;derive&gt;&gt;</text>
<text x="2387.5" y="536.5">&lt;&lt;derive&gt;&gt;</text>
</g>
<text class="t" x="1722" y="840">-userRespository</text>
<g class="u m halo">
<text x="3191" y="692">&lt;&lt;derive&gt;&gt;</text>
<text x="2897" y="963">&lt;&lt;derive&gt;&gt;</text>
<text x="2629.4" y="1334.5">&lt;&lt;derive&gt;&gt;</text>
<text x="1476" y="1260.6">&lt;&lt;derive&gt;&gt;</text>
<text x="1484.5" y="1334.5">&lt;&lt;derive&gt;&gt;</text>
<text x="1478.5" y="1409.6">&lt;&lt;derive&gt;&gt;</text>
<text x="1485.5" y="1489.6">&lt;&lt;derive&gt;&gt;</text>
<text x="1478.5" y="1553">&lt;&lt;derive&gt;&gt;</text>
<text x="1475.5" y="1442">&lt;&lt;derive&gt;&gt;</text>
<text x="1482.6" y="1536.3">&lt;&lt;derive&gt;&gt;</text>
<text x="1484.5" y="1607.6">&lt;&lt;derive&gt;&gt;</text>
<text x="1483" y="1616.6">&lt;&lt;derive&gt;&gt;</text>
<text x="1483" y="1777.3">&lt;&lt;derive&gt;&gt;</text>
</g>
<g class="u">
<text x="3196" y="819">-cmdClassMapper</text>
<text x="3327" y="778">-frontCommand</text>
<text x="1801.7" y="1121">-classRespository</text>
<text x="1751.5" y="1263">-invoiceRespository</text>
<text x="1749.6" y="1440">-ProgramRespository</text>
<text x="1758.8" y="1569">-studentRespository</text>
<text x="1763.7" y="1721">-teacherRespository</text>
<text x="-23.2" y="87.6">&lt;&lt;derive&gt;&gt;</text>
</g>
<g class="u m">
<text x="3452" y="1100">&lt;&lt;derive&gt;&gt;</text>
<text x="3457" y="1042.6">&lt;&lt;derive&gt;&gt;</text>
<text x="3461" y="1028.6">&lt;&lt;derive&gt;&gt;</text>
<text x="3465" y="1100">&lt;&lt;derive&gt;&gt;</text>
<text x="3457" y="1166.6">&lt;&lt;derive&gt;&gt;</text>
<text x="3458" y="1094.6">&lt;&lt;derive&gt;&gt;</text>
<text x="3460" y="1088.6">&lt;&lt;derive&gt;&gt;</text>
<text x="3461" y="1162.6">&lt;&lt;derive&gt;&gt;</text>
<text x="3456" y="1225.6">&lt;&lt;derive&gt;&gt;</text>
<text x="3457" y="1153.6">&lt;&lt;derive&gt;&gt;</text>
<text x="3460" y="1151.6">&lt;&lt;derive&gt;&gt;</text>
<text x="3462" y="1225.3">&lt;&lt;derive&gt;&gt;</text>
<text x="3458" y="1277.5">&lt;&lt;derive&gt;&gt;</text>
<text x="3459" y="1206.1">&lt;&lt;derive&gt;&gt;</text>
<text x="3461" y="1203">&lt;&lt;derive&gt;&gt;</text>
<text x="3460" y="1277.9">&lt;&lt;derive&gt;&gt;</text>
<text x="3458" y="1293">&lt;&lt;derive&gt;&gt;</text>
<text x="3461" y="1248.3">&lt;&lt;derive&gt;&gt;</text>
<text x="3462" y="1324.4">&lt;&lt;derive&gt;&gt;</text>
<text x="3459.6" y="1383.6">&lt;&lt;derive&gt;&gt;</text>
<text x="3459.6" y="1310.6">&lt;&lt;derive&gt;&gt;</text>
</g>
</g>

<text x="3838" y="1910" font-family="Liberation Sans, Arial, sans-serif" font-size="9" fill="#c4c4c4" text-anchor="end">Powered By Visual Paradigm Community Edition</text>
</svg>
